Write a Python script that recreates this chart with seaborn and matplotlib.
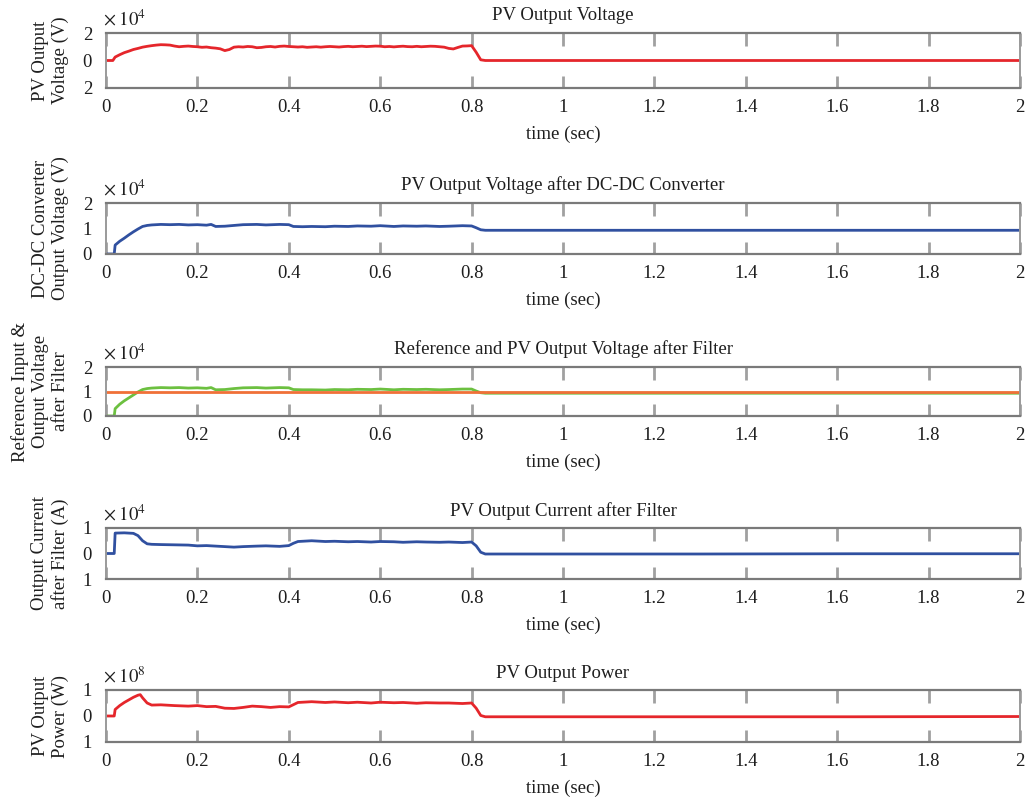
import matplotlib
matplotlib.use("Agg")
import matplotlib.pyplot as plt
import seaborn as sns
import pandas as pd

# ---------------- data ----------------
x_ticks = [0, 0.2, 0.4, 0.6, 0.8, 1, 1.2, 1.4, 1.6, 1.8, 2]
x_tick_labels = ["0", "0.2", "0.4", "0.6", "0.8", "1", "1.2", "1.4", "1.6", "1.8", "2"]

# Panel 1: PV output voltage (x 1e4 V)
t_pv_v = [0, 0.015, 0.02, 0.03, 0.04, 0.05, 0.06, 0.07, 0.08, 0.09,
          0.10, 0.11, 0.12, 0.13, 0.14, 0.15, 0.16, 0.17, 0.18, 0.19,
          0.20, 0.21, 0.22, 0.23, 0.24, 0.25, 0.26, 0.27, 0.28, 0.29,
          0.30, 0.31, 0.32, 0.33, 0.34, 0.35, 0.36, 0.37, 0.38, 0.39,
          0.40, 0.41, 0.42, 0.43, 0.44, 0.45, 0.46, 0.47, 0.48, 0.49,
          0.50, 0.51, 0.52, 0.53, 0.54, 0.55, 0.56, 0.57, 0.58, 0.59,
          0.60, 0.61, 0.62, 0.63, 0.64, 0.65, 0.66, 0.67, 0.68, 0.69,
          0.70, 0.71, 0.72, 0.73, 0.74, 0.75, 0.76, 0.77, 0.78, 0.79,
          0.80, 0.81, 0.82, 0.83, 2.0]
pv_voltage = [0, 0, 0.25, 0.42, 0.57, 0.68, 0.80, 0.88, 0.97, 1.03,
              1.08, 1.12, 1.15, 1.14, 1.12, 1.05, 1.00, 1.03, 1.05, 1.02,
              1.00, 0.96, 0.98, 0.93, 0.90, 0.85, 0.72, 0.80, 0.97, 1.00,
              0.98, 1.02, 1.00, 0.93, 0.95, 1.00, 1.02, 0.98, 1.03, 1.05,
              1.02, 1.00, 0.98, 1.00, 0.96, 0.98, 1.00, 0.97, 1.00, 1.02,
              1.00, 0.98, 1.01, 1.03, 1.00, 1.02, 1.04, 1.01, 1.03, 1.05,
              1.04, 1.00, 1.02, 0.99, 1.02, 1.04, 1.01, 1.00, 1.03, 1.00,
              1.02, 1.04, 1.03, 1.00, 0.97, 0.88, 0.84, 0.95, 1.05, 1.06,
              1.08, 0.60, 0.05, 0.0, 0.0]

# Panel 2: output voltage after DC-DC converter (x 1e4 V)
t_dc = [0, 0.018, 0.02, 0.03, 0.04, 0.05, 0.06, 0.07, 0.08, 0.09, 0.10, 0.12, 0.14,
        0.16, 0.18, 0.20, 0.22, 0.23, 0.24, 0.26, 0.28, 0.30, 0.33, 0.35, 0.38, 0.40,
        0.41, 0.43, 0.45, 0.48, 0.50, 0.53, 0.55, 0.58, 0.60, 0.63, 0.65, 0.68, 0.70,
        0.73, 0.75, 0.78, 0.80, 0.81, 0.82, 0.83, 2.0]
dc_voltage = [0, 0, 0.35, 0.50, 0.62, 0.75, 0.87, 0.98, 1.08, 1.12, 1.14, 1.16, 1.15,
              1.16, 1.14, 1.15, 1.13, 1.16, 1.08, 1.09, 1.12, 1.15, 1.16, 1.14, 1.16, 1.15,
              1.08, 1.07, 1.08, 1.07, 1.09, 1.08, 1.10, 1.09, 1.11, 1.08, 1.10, 1.09, 1.10,
              1.08, 1.09, 1.11, 1.10, 1.03, 0.95, 0.93, 0.93]

# Panel 3: reference input and output voltage after filter (x 1e4 V)
t_ref = [0, 2.0]
ref_voltage = [1.0, 1.0]
t_filt = [0, 0.018, 0.02, 0.03, 0.04, 0.05, 0.06, 0.07, 0.08, 0.09, 0.10, 0.12, 0.14,
          0.16, 0.18, 0.20, 0.22, 0.23, 0.24, 0.26, 0.28, 0.30, 0.33, 0.35, 0.38, 0.40,
          0.41, 0.43, 0.45, 0.48, 0.50, 0.53, 0.55, 0.58, 0.60, 0.63, 0.65, 0.68, 0.70,
          0.73, 0.75, 0.78, 0.80, 0.81, 0.82, 0.83, 2.0]
filt_voltage = [0, 0, 0.30, 0.48, 0.62, 0.74, 0.86, 0.98, 1.08, 1.12, 1.14, 1.16, 1.15,
                1.16, 1.14, 1.15, 1.13, 1.16, 1.07, 1.08, 1.12, 1.15, 1.16, 1.14, 1.16,
                1.15, 1.08, 1.07, 1.07, 1.06, 1.08, 1.07, 1.09, 1.08, 1.10, 1.07, 1.09,
                1.08, 1.09, 1.07, 1.08, 1.10, 1.10, 1.02, 0.95, 0.93, 0.93]

# Panel 4: output current after filter (x 1e4 A)
t_cur = [0, 0.018, 0.02, 0.04, 0.06, 0.07, 0.08, 0.09, 0.10, 0.12, 0.15, 0.18, 0.20,
         0.22, 0.25, 0.28, 0.30, 0.33, 0.35, 0.38, 0.40, 0.41, 0.42, 0.45, 0.48, 0.50,
         0.53, 0.55, 0.58, 0.60, 0.63, 0.65, 0.68, 0.70, 0.73, 0.75, 0.78, 0.80, 0.81,
         0.82, 0.83, 1.3, 1.64, 2.0]
current = [0, 0, 0.80, 0.81, 0.79, 0.70, 0.50, 0.38, 0.36, 0.35, 0.34, 0.33, 0.30,
           0.31, 0.28, 0.25, 0.27, 0.29, 0.30, 0.28, 0.31, 0.40, 0.47, 0.50, 0.47, 0.48,
           0.46, 0.47, 0.45, 0.47, 0.46, 0.44, 0.46, 0.45, 0.44, 0.45, 0.43, 0.45, 0.30,
           0.05, -0.02, -0.02, -0.01, -0.01]

# Panel 5: PV output power (x 1e8 W)
t_pow = [0, 0.018, 0.02, 0.03, 0.04, 0.05, 0.06, 0.07, 0.075, 0.08, 0.09, 0.10, 0.12,
         0.15, 0.18, 0.20, 0.22, 0.24, 0.26, 0.28, 0.30, 0.32, 0.34, 0.36, 0.38, 0.40,
         0.42, 0.45, 0.48, 0.50, 0.53, 0.55, 0.58, 0.60, 0.63, 0.65, 0.68, 0.70, 0.73,
         0.75, 0.78, 0.80, 0.81, 0.82, 0.83, 1.3, 1.64, 2.0]
power = [0, 0, 0.25, 0.40, 0.52, 0.62, 0.72, 0.80, 0.82, 0.70, 0.50, 0.42, 0.43,
         0.40, 0.38, 0.40, 0.36, 0.37, 0.30, 0.29, 0.33, 0.38, 0.36, 0.33, 0.36, 0.35,
         0.52, 0.55, 0.52, 0.54, 0.51, 0.53, 0.50, 0.53, 0.51, 0.52, 0.49, 0.51, 0.50,
         0.50, 0.48, 0.50, 0.30, 0.02, -0.03, -0.03, -0.03, -0.02]

titles = ["PV Output Voltage",
          "PV Output Voltage after DC-DC Converter",
          "Reference and PV Output Voltage after Filter",
          "PV Output Current after Filter",
          "PV Output Power"]
ylabels = ["PV Output\nVoltage (V)",
           "DC-DC Converter\nOutput Voltage (V)",
           "Reference Input &\nOutput Voltage\nafter Filter",
           "Output Current\nafter Filter (A)",
           "PV Output\nPower (W)"]
exponents = ["4", "4", "4", "4", "8"]
y_ticks = [[-2, 0, 2], [0, 1, 2], [0, 1, 2], [-1, 0, 1], [-1, 0, 1]]
y_tick_labels = [["2", "0", "2"], ["0", "1", "2"], ["0", "1", "2"],
                 ["1", "0", "1"], ["1", "0", "1"]]

RED = "#e5262b"
BLUE = "#3050a0"
GREEN = "#6cc040"
ORANGE = "#f07038"

# ---------------- style ----------------
sns.set_style("white")
plt.rcParams["font.family"] = ["Liberation Serif", "DejaVu Serif"]
plt.rcParams["mathtext.fontset"] = "stix"

FS = 13.5
TXT = "#1e1e1e"
W, H = 1028, 806
fig = plt.figure(figsize=(W / 100, H / 100), dpi=100)

# axes boxes in pixels: (top, bottom)
boxes = [(33, 88), (203, 254), (367, 416), (528, 579), (690, 742)]
left_px, right_px = 106, 1020

series = [
    [(t_pv_v, pv_voltage, RED)],
    [(t_dc, dc_voltage, BLUE)],
    [(t_filt, filt_voltage, GREEN), (t_ref, ref_voltage, ORANGE)],
    [(t_cur, current, BLUE)],
    [(t_pow, power, RED)],
]

for i, (top, bot) in enumerate(boxes):
    ax = fig.add_axes([left_px / W, 1 - bot / H, (right_px - left_px) / W, (bot - top) / H])
    for t, v, c in series[i]:
        df = pd.DataFrame({"t": t, "v": v})
        sns.lineplot(data=df, x="t", y="v", ax=ax, color=c, linewidth=2.0,
                     estimator=None, sort=False)
    ax.set_xlim(0, 2)
    ax.set_ylim(y_ticks[i][0], y_ticks[i][-1])
    ax.set_xticks(x_ticks)
    ax.set_xticklabels(x_tick_labels)
    ax.set_yticks(y_ticks[i])
    ax.set_yticklabels(y_tick_labels[i])
    ax.tick_params(axis="x", direction="in", length=9, width=2, color="#a0a0a0",
                   top=True, bottom=True, labelsize=FS, pad=8, labelcolor=TXT)
    ax.tick_params(axis="y", direction="in", length=0, labelsize=FS, pad=10,
                   labelcolor=TXT)
    for side in ["top", "bottom"]:
        ax.spines[side].set_color("#7a7a7a")
        ax.spines[side].set_linewidth(1.6)
    for side in ["left", "right"]:
        ax.spines[side].set_color("#9a9a9a")
        ax.spines[side].set_linewidth(1.4)
    ax.set_xlabel("time (sec)", fontsize=FS, labelpad=7, color=TXT)
    ax.set_ylabel(ylabels[i], fontsize=FS, color=TXT, linespacing=1.2)
    ax.yaxis.set_label_coords(-0.041, 0.5)
    ax.set_title(titles[i], fontsize=FS, pad=9, color=TXT)
    ax.text(-0.003, 1.07, r"$\times\;10^{%s}$" % exponents[i], transform=ax.transAxes,
            fontsize=FS, ha="left", va="bottom", color=TXT)

fig.savefig("out.png", dpi=100)
